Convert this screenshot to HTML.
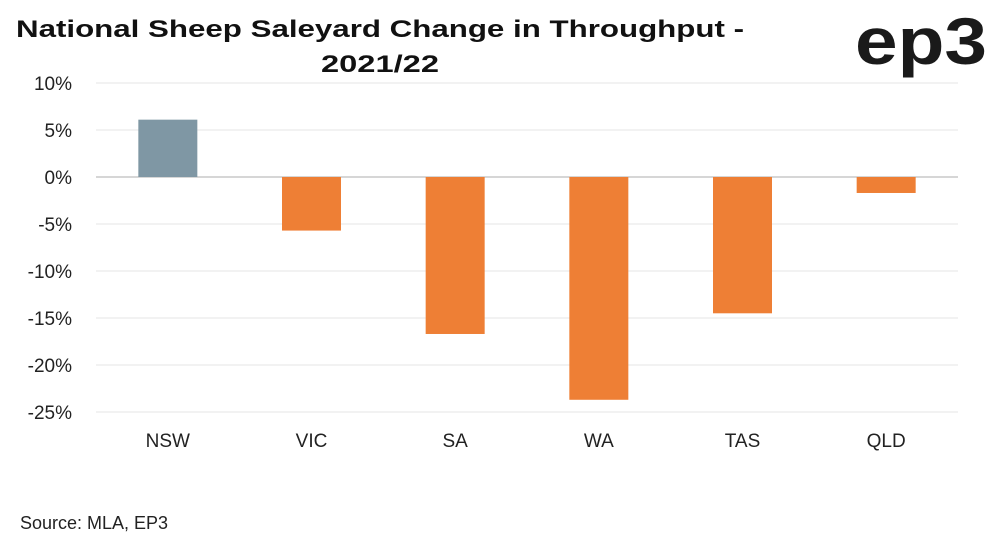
<!DOCTYPE html>
<html><head><meta charset="utf-8"><style>
body{margin:0;background:#fff;width:997px;height:543px;overflow:hidden;font-family:"Liberation Sans",sans-serif}
</style></head><body>
<svg width="997" height="543" xmlns="http://www.w3.org/2000/svg">
<text x="16" y="37" font-size="24" font-weight="bold" fill="#111" textLength="728" lengthAdjust="spacingAndGlyphs">National Sheep Saleyard Change in Throughput -</text>
<text x="380" y="72" text-anchor="middle" font-size="24" font-weight="bold" fill="#111" textLength="118" lengthAdjust="spacingAndGlyphs">2021/22</text>
<text x="855" y="64" font-size="66" font-weight="bold" fill="#1a1a1a" textLength="132" lengthAdjust="spacingAndGlyphs">ep3</text>
<g id="grid"></g><g id="bars"></g><g id="ylab"></g><g id="xlab"></g>
<text x="20" y="529" font-size="18" fill="#222">Source: MLA, EP3</text>
</svg>
<script>
const categories=["NSW","VIC","SA","WA","TAS","QLD"];
const values=[6.1,-5.7,-16.7,-23.7,-14.5,-1.7];
const ticks=[10,5,0,-5,-10,-15,-20,-25];
const ns="http://www.w3.org/2000/svg";
const L=96,R=958,y0=177,pxPer=9.4;
const y=v=>y0-v*pxPer;
const band=(R-L)/categories.length;
const x=i=>L+band*i+band/2;
function mk(t,a,p){const e=document.createElementNS(ns,t);for(const k in a)e.setAttribute(k,a[k]);p.appendChild(e);return e;}
const g=document.getElementById('grid'),yl=document.getElementById('ylab');
ticks.forEach(t=>{
 const l=mk('line',{x1:L,x2:R,y1:y(t),y2:y(t),stroke:t===0?'#c8c8c8':'#e6e6e6','stroke-width':t===0?1.5:1},g);
 
 
 const tx=mk('text',{x:72,y:y(t)+7,'text-anchor':'end','font-size':19,fill:'#222'},yl);
 tx.textContent=t+'%';
 
 
});
const b=document.getElementById('bars'),xl=document.getElementById('xlab');
categories.forEach((c,i)=>{
 const v=values[i],w=59;
 const r=mk('rect',{x:x(i)-w/2,y:Math.min(y(v),y0),width:w,height:Math.abs(y(v)-y0),fill:v>=0?'#7f97a4':'#ee7f35'},b);
 
 
 const t=mk('text',{x:x(i),y:447,'text-anchor':'middle','font-size':19,fill:'#222'},xl);
 t.textContent=c;
 
 
});
</script>
</body></html>
